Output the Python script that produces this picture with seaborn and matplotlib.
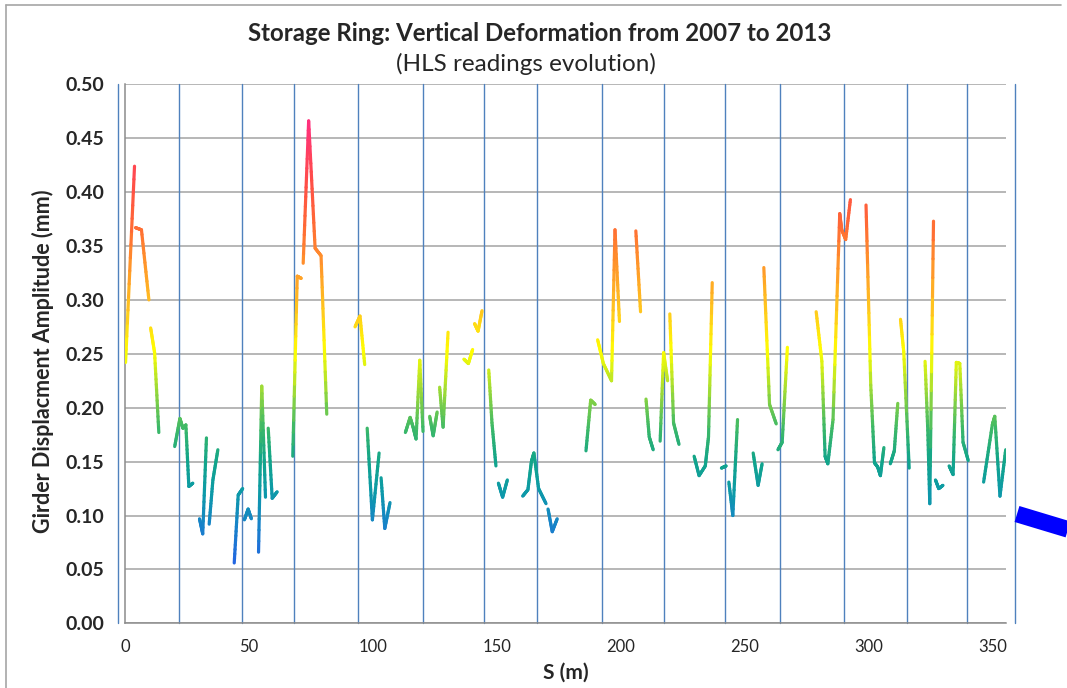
"""
Storage ring girder deformation (HLS readings)
"""

import numpy as np
import matplotlib
matplotlib.use('Agg')
import matplotlib.pyplot as plt
import seaborn as sns
from matplotlib.collections import LineCollection
from matplotlib.colors import LinearSegmentedColormap, Normalize
from matplotlib.lines import Line2D
from matplotlib.ticker import FormatStrFormatter

# girder position along the ring (m) and displacement amplitude (mm); nan = gap between girders
s_m = [0.3, 3.9, np.nan,
       4.3, 6.7, 9.7, np.nan,
       10.4, 12.0, 13.7, np.nan,
       20.1, 22.2, 23.4, 24.6, 25.8, 27.4, np.nan,
       30.1, 31.4, 32.9, np.nan,
       34.0, 35.5, 37.5, np.nan,
       44.1, 45.7, 47.5, np.nan,
       48.2, 49.7, 51.0, np.nan,
       53.9, 55.2, 56.7, np.nan,
       57.8, 59.4, 61.4, np.nan,
       67.7, 69.5, 71.1, np.nan,
       71.9, 74.1, 76.7, 79.1, 81.4, np.nan,
       92.8, 94.8, 96.7, np.nan,
       97.7, 99.8, 102.5, np.nan,
       103.3, 104.8, 106.9, np.nan,
       113.1, 115.0, 116.2, 117.4, 118.9, 120.2, np.nan,
       122.9, 124.3, 125.9, np.nan,
       126.9, 128.3, 130.3, np.nan,
       136.7, 138.5, 140.2, np.nan,
       141.0, 142.4, 144.0, np.nan,
       146.7, 148.0, 149.6, np.nan,
       150.6, 152.3, 154.2, np.nan,
       160.4, 162.5, 163.9, 164.9, 166.8, 169.8, np.nan,
       170.6, 172.3, 174.3, np.nan,
       185.9, 187.8, 189.6, np.nan,
       190.6, 192.9, 196.2, 197.6, 199.4, np.nan,
       206.0, 207.9, np.nan,
       210.1, 211.4, 213.0, np.nan,
       215.8, 217.2, 218.8, np.nan,
       219.7, 221.2, 223.4, np.nan,
       229.5, 231.5, 234.0, 235.3, 236.8, np.nan,
       240.5, 242.4, np.nan,
       243.5, 245.1, 247.0, np.nan,
       253.3, 255.3, 256.9, np.nan,
       257.6, 259.9, 262.6, np.nan,
       263.3, 265.0, 267.1, np.nan,
       278.7, 281.0, 282.3, 283.4, 285.5, 288.2, 289.0, 290.6, 292.5, np.nan,
       298.8, 300.7, 302.2, 303.5, 304.6, 306.0, np.nan,
       308.6, 310.2, 311.6, np.nan,
       312.7, 314.0, 316.2, np.nan,
       322.6, 323.7, 324.5, 326.0, np.nan,
       326.8, 328.1, 329.8, np.nan,
       332.3, 333.9, 335.2, 336.6, 337.9, 340.0, np.nan,
       346.2, 349.7, 350.7, 352.8, 355.1]

amp_mm = [0.242, 0.424, np.nan,
          0.367, 0.365, 0.300, np.nan,
          0.274, 0.251, 0.177, np.nan,
          0.164, 0.190, 0.181, 0.184, 0.127, 0.130, np.nan,
          0.097, 0.083, 0.172, np.nan,
          0.092, 0.133, 0.161, np.nan,
          0.056, 0.119, 0.125, np.nan,
          0.096, 0.106, 0.097, np.nan,
          0.066, 0.220, 0.117, np.nan,
          0.181, 0.116, 0.122, np.nan,
          0.155, 0.322, 0.320, np.nan,
          0.334, 0.466, 0.348, 0.341, 0.194, np.nan,
          0.275, 0.285, 0.240, np.nan,
          0.181, 0.096, 0.158, np.nan,
          0.135, 0.088, 0.112, np.nan,
          0.177, 0.191, 0.182, 0.171, 0.244, 0.178, np.nan,
          0.192, 0.174, 0.196, np.nan,
          0.219, 0.182, 0.270, np.nan,
          0.245, 0.241, 0.254, np.nan,
          0.278, 0.271, 0.290, np.nan,
          0.235, 0.186, 0.146, np.nan,
          0.130, 0.117, 0.133, np.nan,
          0.118, 0.124, 0.150, 0.158, 0.125, 0.111, np.nan,
          0.106, 0.085, 0.097, np.nan,
          0.160, 0.207, 0.203, np.nan,
          0.263, 0.241, 0.225, 0.365, 0.280, np.nan,
          0.364, 0.289, np.nan,
          0.208, 0.173, 0.161, np.nan,
          0.169, 0.251, 0.225, np.nan,
          0.287, 0.186, 0.166, np.nan,
          0.155, 0.137, 0.146, 0.173, 0.316, np.nan,
          0.144, 0.146, np.nan,
          0.131, 0.100, 0.189, np.nan,
          0.158, 0.128, 0.148, np.nan,
          0.330, 0.203, 0.185, np.nan,
          0.161, 0.168, 0.256, np.nan,
          0.289, 0.243, 0.155, 0.148, 0.189, 0.380, 0.365, 0.356, 0.393, np.nan,
          0.388, 0.221, 0.149, 0.145, 0.137, 0.163, np.nan,
          0.148, 0.160, 0.204, np.nan,
          0.282, 0.252, 0.144, np.nan,
          0.243, 0.179, 0.111, 0.373, np.nan,
          0.133, 0.125, 0.128, np.nan,
          0.146, 0.138, 0.242, 0.241, 0.168, 0.151, np.nan,
          0.131, 0.184, 0.192, 0.118, 0.161]

# sector boundaries (blue vertical lines)
sector_edges = [-2.7, 21.9, 47.1, 68.3, 94.1, 120.3, 144.9, 166.1,
                192.3, 217.3, 242.1, 264.0, 289.9, 315.2, 339.6, 359.0]

x_ticks = [0, 50, 100, 150, 200, 250, 300, 350]
y_ticks = [0.00, 0.05, 0.10, 0.15, 0.20, 0.25, 0.30, 0.35, 0.40, 0.45, 0.50]

sns.set_style('white')
plt.rcParams['font.family'] = ['Lato', 'DejaVu Sans']

# colour follows the amplitude: blue (low) -> green -> yellow -> orange -> pink (high)
amp_cmap = LinearSegmentedColormap.from_list('amp', [
    (0.00, '#2560e6'), (0.10, '#1784c8'), (0.17, '#0d9aa8'), (0.24, '#12a58a'),
    (0.31, '#3cb868'), (0.38, '#8cd440'), (0.48, '#ffff00'), (0.57, '#ffc81e'),
    (0.67, '#ff962a'), (0.76, '#ff6a35'), (0.86, '#ff4d48'), (1.00, '#ff2d82')])
amp_norm = Normalize(0.05, 0.47)

fig, ax = plt.subplots(figsize=(10.67, 6.88), dpi=100)
fig.subplots_adjust(left=0.117, right=0.943, bottom=0.094, top=0.8775)

# split each girder segment into short pieces so the colour runs along it
segs, seg_vals = [], []
xs = np.array(s_m)
ys = np.array(amp_mm)
for x0, x1, y0, y1 in zip(xs[:-1], xs[1:], ys[:-1], ys[1:]):
    if np.isnan(y0) or np.isnan(y1):
        continue
    t = np.linspace(0, 1, 16)
    px = x0 + (x1 - x0) * t
    py = y0 + (y1 - y0) * t
    pts = np.column_stack([px, py])
    segs.extend(np.stack([pts[:-1], pts[1:]], axis=1))
    seg_vals.extend((py[:-1] + py[1:]) / 2)

lc = LineCollection(segs, cmap=amp_cmap, norm=amp_norm, linewidths=2.3,
                    capstyle='round', joinstyle='round', zorder=3)
lc.set_array(np.array(seg_vals))
ax.add_collection(lc)

for edge in sector_edges:
    ax.axvline(edge, color='#4f81bd', lw=1.0, clip_on=False, zorder=2)

ax.set_xlim(0, 355.3)
ax.set_ylim(0, 0.5)
ax.set_xticks(x_ticks)
ax.set_yticks(y_ticks)
ax.yaxis.set_major_formatter(FormatStrFormatter('%.2f'))
ax.yaxis.grid(True, color='#a3a3a3', lw=1.1, zorder=0)
ax.xaxis.grid(False)
ax.set_axisbelow(True)

for side in ['top', 'right']:
    ax.spines[side].set_visible(False)
for side in ['left', 'bottom']:
    ax.spines[side].set_color('#8c8c8c')
    ax.spines[side].set_linewidth(1.1)

ax.tick_params(axis='y', length=6, color='#a3a3a3', width=1.1, pad=9, labelsize=14)
ax.tick_params(axis='x', length=5, color='#a3a3a3', width=1.1, pad=6, labelsize=12)
for lbl in ax.get_yticklabels():
    lbl.set_fontweight('bold')

fig.text(0.506, 0.952, 'Storage Ring: Vertical Deformation from 2007 to 2013',
         ha='center', va='center', fontsize=17.3, fontweight='bold')
fig.text(0.493, 0.907, '(HLS readings evolution)', ha='center', va='center', fontsize=17.5)
fig.text(0.040, 0.475, 'Girder Displacment Amplitude (mm)', rotation=90,
         ha='center', va='center', fontsize=15.5, fontweight='bold')
fig.text(0.530, 0.022, 'S (m)', ha='center', va='center', fontsize=15, fontweight='bold')

# chart frame (left and top) and the blue pointer on the right
fig.add_artist(Line2D([6 / 1067, 6 / 1067], [0, 1 - 5 / 688], color='#a6a6a6', lw=1.2))
fig.add_artist(Line2D([6 / 1067, 1061 / 1067], [1 - 5 / 688, 1 - 5 / 688], color='#a6a6a6', lw=1.2))
fig.add_artist(Line2D([1017 / 1067, 1080 / 1067], [1 - 514 / 688, 1 - 533 / 688],
                      color='#0000ff', lw=12, solid_capstyle='butt'))

plt.savefig('out.png', dpi=100)
plt.close()
